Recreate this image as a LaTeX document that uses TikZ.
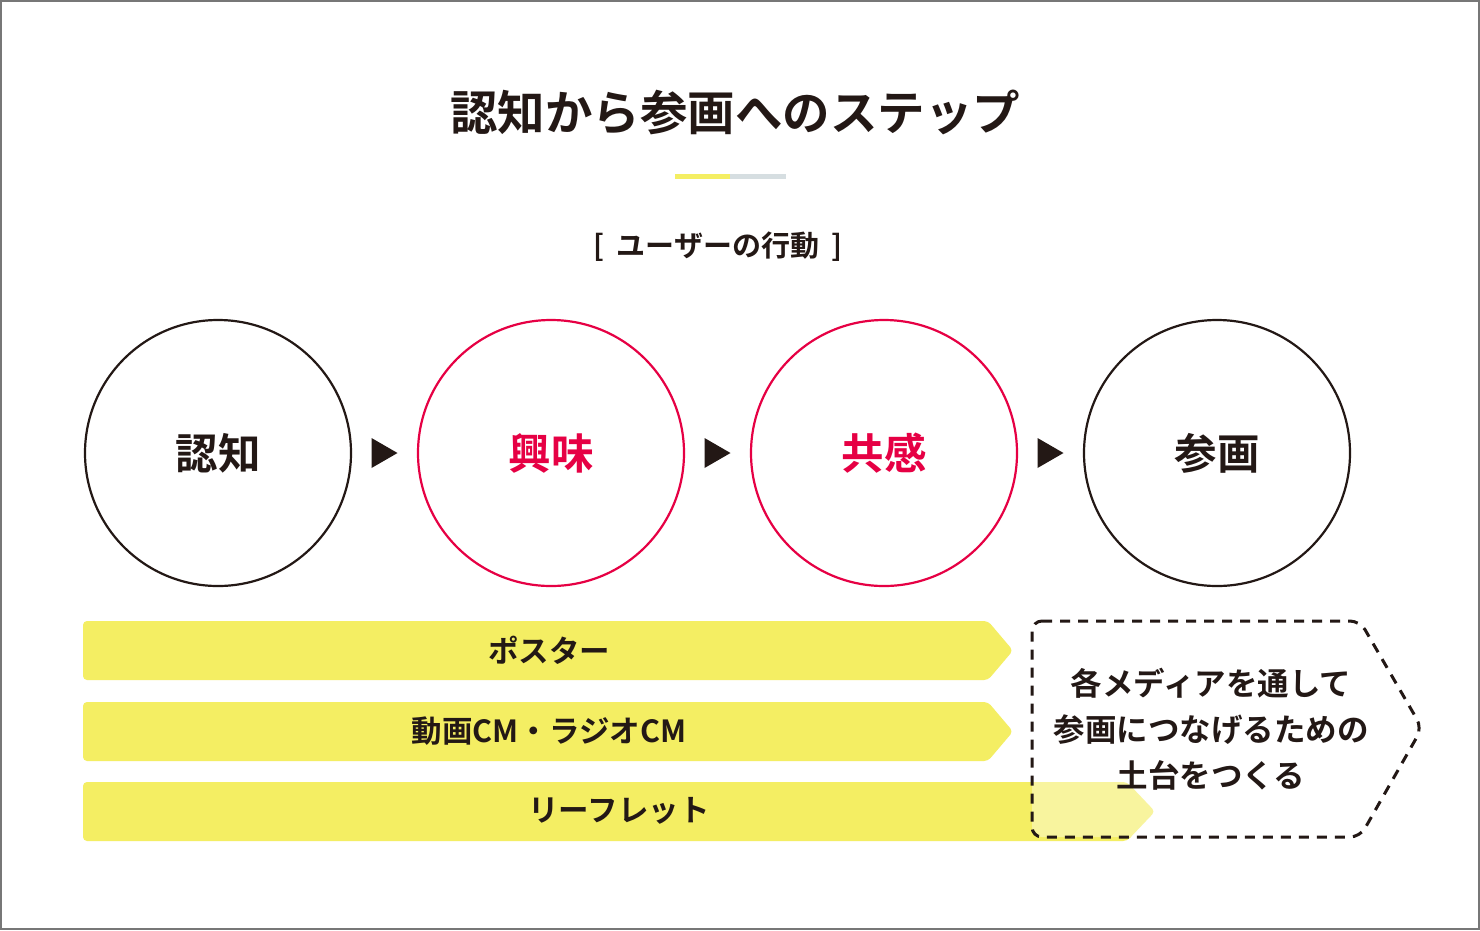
\documentclass[tikz,border=0pt]{standalone}
\usepackage{fontspec}
\setmainfont{Noto Sans CJK JP}[BoldFont={* Bold}]
\newfontfamily\jpb{Noto Sans CJK JP Bold}
\usetikzlibrary{calc}
\definecolor{ink}{HTML}{231815}
\definecolor{accent}{HTML}{E60044}
\definecolor{barfill}{HTML}{F4EE63}
\definecolor{linegray}{HTML}{D6DEE1}
\definecolor{framegray}{HTML}{777777}
\tikzset{
  stepcircle/.style={circle, draw=ink, line width=2.2pt, minimum size=266pt, inner sep=0pt,
     text=ink, font=\jpb\fontsize{42.5}{48}\selectfont},
  redcircle/.style={stepcircle, draw=accent, text=accent},
  bar/.style={fill=barfill, rounded corners=4pt},
  bartext/.style={text=ink, font=\jpb\fontsize{30.5}{36}\selectfont, inner sep=0pt},
  tri/.style={fill=ink},
  dashbox/.style={draw=ink, line width=3pt, dash pattern=on 10pt off 8pt, rounded corners=10pt, fill=white, fill opacity=0.38},
}
\begin{document}
\begin{tikzpicture}[x=1pt,y=-1pt]
\useasboundingbox (0,0) rectangle (1480,930);
\fill[white] (0,0) rectangle (1480,930);
\draw[framegray, line width=2pt] (1,1) rectangle (1479,929);

% title
\node[text=ink, font=\jpb\fontsize{47.5}{54}\selectfont, inner sep=0pt] (title) at (735,112) {認知から参画へのステップ};
\fill[barfill] (675,174) rectangle (730,179);
\fill[linegray] (730,174) rectangle (786,179);

\node[text=ink, font=\jpb\fontsize{29}{34}\selectfont, inner sep=0pt] (sub) at (718,247) {[\hspace{12pt}ユーザーの行動\hspace{12pt}]};

% circles
\node[stepcircle] (c1) at (218,453) {認知};
\node[redcircle]  (c2) at (551,453) {興味};
\node[redcircle]  (c3) at (884,453) {共感};
\node[stepcircle] (c4) at (1217,453) {参画};

\foreach \a/\b in {c1/c2,c2/c3,c3/c4}{
  \coordinate (m) at ($(\a.east)!0.5!(\b.west)$);
  \fill[tri] (m) ++(-13,-15) -- ++(26,15) -- ++(-26,15) -- cycle;
}

% bars
\path[bar] (83,621) -- (988,621) -- (1013,650.5) -- (988,680) -- (83,680) -- cycle;
\path[bar] (83,702) -- (988,702) -- (1013,731.5) -- (988,761) -- (83,761) -- cycle;
\path[bar] (83,782) -- (1127,782) -- (1155,811.5) -- (1127,841) -- (83,841) -- cycle;

% dashed box
\path[dashbox] (1032,621) -- (1360,621) -- (1422,728) -- (1360,837) -- (1032,837) -- cycle;

\node[bartext] (b1) at (549,650) {ポスター};
\node[bartext] (b2) at (549,731) {動画CM・ラジオCM};
\node[bartext] (b3) at (619,811) {リーフレット};

\node[text=ink, font=\jpb\fontsize{31.5}{46}\selectfont, align=center, inner sep=0pt] (goal) at (1211,729)
  {各メディアを通して\\参画につなげるための\\土台をつくる};
\end{tikzpicture}
\end{document}
